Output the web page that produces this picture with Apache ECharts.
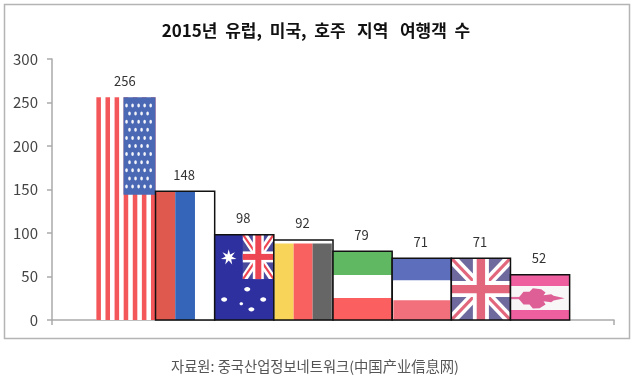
<!DOCTYPE html>
<html><head><meta charset="utf-8">
<style>html,body{margin:0;padding:0;background:#fff}#c{width:638px;height:379px;filter:blur(0.35px)}</style>
<script src="https://cdn.jsdelivr.net/npm/echarts@6/dist/echarts.min.js"></script>
</head><body><div id="c"></div>
<script>
const countries = ['미국','러시아','호주','독일','이탈리아','프랑스','영국','캐나다'];
const visitors = [256,148,98,92,79,71,71,52];
const titleText = '2015년  유럽,  미국,  호주   지역   여행객  수';
const sourceText = '자료원: 중국산업정보네트워크(中国产业信息网)';
const FONT = '"Noto Sans CJK KR","Noto Sans",sans-serif';
const INK = '#111';

function R(b,fx0,fy0,fx1,fy1,fill){
  return {type:'rect',shape:{x:b.x+b.w*fx0,y:b.y+b.h*fy0,width:b.w*(fx1-fx0),height:b.h*(fy1-fy0)},style:{fill}};
}
function P(b,pts,fill){
  return {type:'polygon',shape:{points:pts.map(p=>[b.x+b.w*p[0],b.y+b.h*p[1]])},style:{fill}};
}
function E(b,fx,fy,rx,ry,fill){
  return {type:'ellipse',shape:{cx:b.x+b.w*fx,cy:b.y+b.h*fy,rx,ry},style:{fill}};
}
function union(b,blue,red,white,dw,dr,cw,cr){
  const o=[R(b,0,0,1,1,blue)];
  const diag=(t,c)=>{
    const a=t/b.w,e=t/b.h;
    o.push(P(b,[[0,0],[a,0],[1,1-e],[1,1],[1-a,1],[0,e]],c));
    o.push(P(b,[[1,0],[1-a,0],[0,1-e],[0,1],[a,1],[1,e]],c));
  };
  diag(dw,white); diag(dr,red);
  const hx=cw/b.w,hy=cw/b.h,rx=cr/b.w,ry=cr/b.h;
  o.push(R(b,.5-hx,0,.5+hx,1,white),R(b,0,.5-hy,1,.5+hy,white));
  o.push(R(b,.5-rx,0,.5+rx,1,red),R(b,0,.5-ry,1,.5+ry,red));
  return o;
}
const flags = [
  function usa(b){
    const o=[R(b,0,0,1,1,'#fff')];
    for(let i=0;i<13;i+=2)o.push(R(b,i/13,0,(i+1)/13,1,'#f4575a'));
    o.push(R(b,.458,0,1,.438,'#4a68b4'));
    for(let r=0;r<11;r++){
      const odd=r%2===1,n=odd?4:5;
      for(let c=0;c<n;c++){
        const fx=(odd?.56:.51)+c*.102;
        o.push(E(b,fx,(8.2+r*8.1)/b.h,1.3,2,'#f2f4fa'));
      }
    }
    return o;
  },
  function russia(b){
    return [R(b,0,0,.333,1,'#e0594f'),R(b,.333,0,.667,1,'#3565b8'),R(b,.667,0,1,1,'#fff')];
  },
  function australia(b){
    const o=[R(b,0,0,1,1,'#2f30a0')];
    const u={x:b.x+b.w*.475,y:b.y,w:b.w*.525,h:b.h*.52};
    o.push(...union(u,'#4a4a9c','#ee4552','#fff',5,1.6,5.5,3));
    const big=[];
    for(let i=0;i<14;i++){
      const a=i*Math.PI/7-Math.PI/2,rr=i%2?3.2:8;
      big.push([.237+rr*Math.cos(a)/b.w,.265+rr*Math.sin(a)/b.h]);
    }
    o.push(P(b,big,'#fff'));
    o.push(E(b,.55,.64,3,2.2,'#fff'),E(b,.16,.76,3,2.2,'#fff'),E(b,.82,.76,3,2.2,'#fff'),E(b,.45,.81,1.8,1.5,'#fff'),E(b,.62,.875,3,2.2,'#fff'));
    return o;
  },
  function germany(b){
    return [R(b,0,0,1,1,'#fff'),R(b,.01,.045,.335,1,'#f8d558'),R(b,.335,.045,.655,1,'#f96060'),R(b,.655,.045,.98,1,'#666666')];
  },
  function italy(b){
    return [R(b,0,0,1,.345,'#60b862'),R(b,0,.345,1,.68,'#fff'),R(b,0,.68,1,1,'#fb5f5f')];
  },
  function france(b){
    return [R(b,0,0,1,.36,'#5c6ebc'),R(b,.02,.36,.98,.68,'#fff'),R(b,.02,.68,.98,1,'#f2707c')];
  },
  function uk(b){
    return union(b,'#6f6a9e','#e2667c','#fff',7,2.2,8,4.2);
  },
  function canada(b){
    const leaf=[[566,205],[582,186],[600,186],[610,175],[635,178],[648,188],[642,196],[665,193],[672,198],[705,205],[672,212],[665,217],[642,214],[648,224],[630,235],[610,236],[600,224],[582,224]]
      .map(q=>[(q[0]/3-181)/59,(q[1]/3-45)/45]);
    return [R(b,0,0,1,.25,'#ee5f9f'),R(b,0,.25,1,.78,'#f8f6f6'),R(b,0,.78,1,1,'#ee5f9f'),
      R(b,0,.49,.17,.54,'#df6a9e'),P(b,leaf,'#dd5f96')];
  }
];

function renderFlag(params,api){
  const i=params.dataIndex,x=api.value(0),v=api.value(1);
  const tl=api.coord([x-.5,v]),br=api.coord([x+.5,0]);
  const b={x:tl[0],y:tl[1],w:br[0]-tl[0],h:br[1]-tl[1]};
  const children=flags[i](b);
  if(i>0)children.push({type:'rect',shape:{x:b.x,y:b.y,width:b.w,height:b.h},style:{fill:'none',stroke:INK,lineWidth:1.5}});
  children.push({type:'text',style:{text:String(v),x:b.x+b.w/2-1,y:b.y-16.5,align:'center',verticalAlign:'middle',fill:'#333',font:'13px '+FONT}});
  return {type:'group',children};
}

const chart=echarts.init(document.getElementById('c'),null,{renderer:'canvas'});
chart.setOption({
  animation:false,
  backgroundColor:'#fff',
  title:[
    {text:titleText,left:311,top:17,textAlign:'center',textStyle:{fontFamily:FONT,fontSize:17,fontWeight:'bold',color:'#111'}},
    {text:sourceText,left:310,top:354,textAlign:'center',textStyle:{fontFamily:FONT,fontSize:14.3,fontWeight:'normal',color:'#555'}}
  ],
  graphic:[{type:'rect',z:-1,shape:{x:4.5,y:4.5,width:625,height:334},style:{fill:'#fff',stroke:'#b4b4b4',lineWidth:1.5}}],
  grid:{left:52,right:24,top:59,bottom:59},
  xAxis:{type:'value',min:0,max:9.5,interval:9.5,splitLine:{show:false},
    axisLine:{show:true,lineStyle:{color:'#aaa',width:1.5}},
    axisTick:{show:true,length:5,lineStyle:{color:'#aaa',width:1.5}},axisLabel:{show:false}},
  yAxis:{type:'value',min:0,max:300,interval:50,splitLine:{show:false},
    axisLine:{show:true,lineStyle:{color:'#aaa',width:1.5}},
    axisTick:{show:true,length:5,lineStyle:{color:'#aaa',width:1.5}},
    axisLabel:{margin:14,fontFamily:FONT,fontSize:15,color:'#444'}},
  series:[{type:'custom',name:'여행객 수',clip:false,z:1,
    data:visitors.map((v,i)=>({name:countries[i],value:[i+1.25,v]})),
    encode:{x:0,y:1},renderItem:renderFlag}]
});
</script></body></html>
